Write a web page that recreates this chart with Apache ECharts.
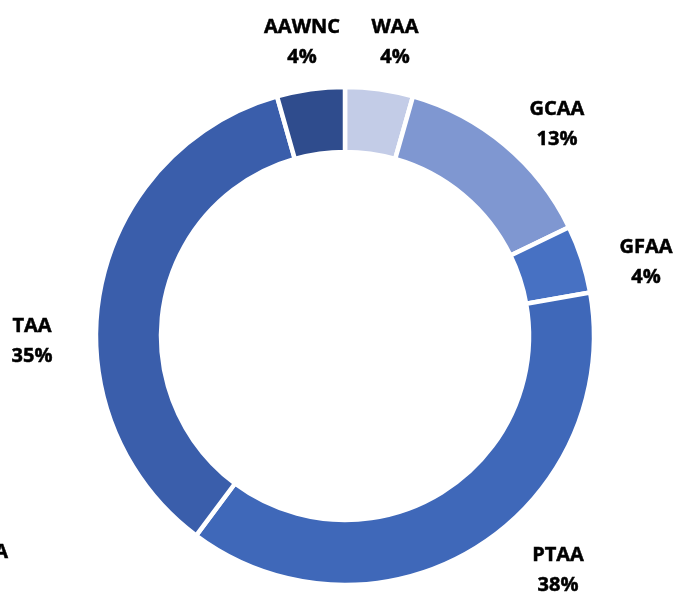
<!DOCTYPE html>
<html>
<head>
<meta charset="utf-8">
<script src="https://cdn.jsdelivr.net/npm/echarts@6/dist/echarts.min.js"></script>
<style>
html,body{margin:0;padding:0;background:#fff;}
#chart{width:674px;height:593px;}
</style>
</head>
<body>
<div id="chart"></div>
<script>
// Data (shares in percent; labels show rounded values)
const categories = ['WAA', 'GCAA', 'GFAA', 'PTAA', 'TAA', 'AAWNC'];
const values = [4.4, 13.4, 4.4, 38.0, 35.4, 4.4];

// Styles / layout (not data)
const colors = ['#c3cce7', '#7f97d1', '#4771c3', '#3f68b9', '#3a5eab', '#2f4c8d'];
const labelPos = {
  WAA: [395, 42], GCAA: [557, 124], GFAA: [646, 262],
  PTAA: [558, 570], TAA: [32, 341], AAWNC: [302, 42]
};

const chart = echarts.init(document.getElementById('chart'));
chart.setOption({
  animation: false,
  backgroundColor: '#ffffff',
  series: [{
    type: 'pie',
    center: [345, 336],
    radius: [184, 249],
    startAngle: 90,
    clockwise: true,
    avoidLabelOverlap: false,
    itemStyle: { borderColor: '#ffffff', borderWidth: 4.5 },
    label: {
      show: true,
      position: 'outside',
      formatter: p => p.name + '\n' + Math.round(p.value) + '%',
      fontFamily: 'Open Sans',
      fontWeight: 'bold',
      fontSize: 20,
      lineHeight: 30,
      color: '#000000',
      textBorderColor: '#000000',
      textBorderWidth: 0.5
    },
    labelLine: { show: false },
    labelLayout: function (params) {
      const name = categories[params.dataIndex];
      const pos = labelPos[name];
      return { x: pos[0], y: pos[1], align: 'center', verticalAlign: 'middle' };
    },
    data: categories.map((c, i) => ({ name: c, value: values[i], itemStyle: { color: colors[i] } }))
  }],
  graphic: [{
    type: 'text',
    left: -6,
    top: 542,
    style: { text: 'A', font: 'bold 20px "Open Sans"', fill: '#000000', stroke: '#000000', lineWidth: 0.5 }
  }]
});
</script>
</body>
</html>
